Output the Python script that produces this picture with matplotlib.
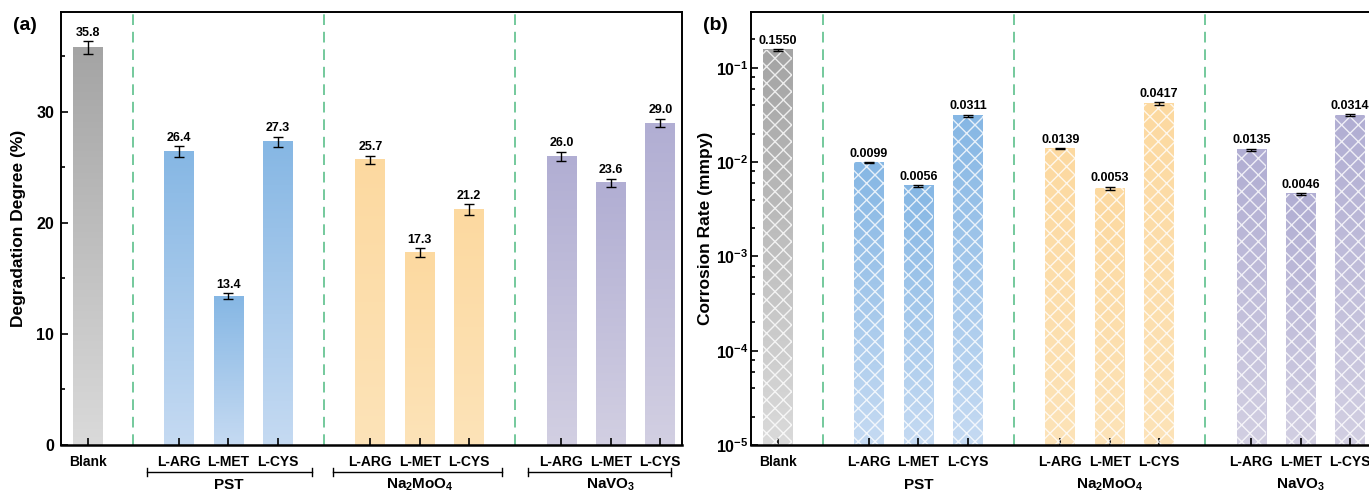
import matplotlib

matplotlib.use("Agg")
import matplotlib.pyplot as plt
import numpy as np
from matplotlib.colors import LinearSegmentedColormap
from matplotlib.ticker import FuncFormatter, LogLocator, MultipleLocator, NullFormatter
from matplotlib.transforms import blended_transform_factory

plt.rcParams["font.family"] = ["Liberation Sans", "DejaVu Sans"]
plt.rcParams["font.weight"] = "bold"
plt.rcParams["mathtext.fontset"] = "custom"
plt.rcParams["mathtext.rm"] = "Liberation Sans:bold"
plt.rcParams["mathtext.bf"] = "Liberation Sans:bold"
plt.rcParams["mathtext.default"] = "bf"
plt.rcParams["hatch.linewidth"] = 1.0

# --- data ---------------------------------------------------------------------
blank_label = "Blank"
groups = ["PST", "Na$_2$MoO$_4$", "NaVO$_3$"]
additives = ["L-ARG", "L-MET", "L-CYS"]

degradation = [35.8, 26.4, 13.4, 27.3, 25.7, 17.3, 21.2, 26.0, 23.6, 29.0]
degradation_err = [0.55, 0.50, 0.25, 0.48, 0.37, 0.40, 0.48, 0.42, 0.37, 0.36]

corrosion = [0.1550, 0.0099, 0.0056, 0.0311, 0.0139, 0.0053, 0.0417, 0.0135, 0.0046, 0.0314]
corrosion_err = [0.003, 0.0002, 0.0001, 0.0008, 0.0003, 0.0002, 0.0012, 0.0004, 0.0001, 0.0009]
# -----------------------------------------------------------------------------

# (top, bottom) gradient colours: blank, then one pair per group
BLANK_COLORS = ("#a4a4a4", "#dadada")
GROUP_COLORS = [("#86b7e4", "#c5daf2"), ("#fcd9a0", "#fde3b8"), ("#b1aed3", "#d2cfe2")]
DASH_COLOR = "#74c99c"

GROUP_START = 1.85
GROUP_STEP = 3.87
BAR_W = 0.6
XLIM = (-0.54, 12.03)

x = [0.0] + [GROUP_START + g * GROUP_STEP + i for g in range(3) for i in range(3)]
tick_labels = [blank_label] + additives * 3
bar_colors = [BLANK_COLORS] + [GROUP_COLORS[g] for g in range(3) for _ in range(3)]
dividers = [(x[0] + x[1]) / 2, (x[3] + x[4]) / 2, (x[6] + x[7]) / 2]
centers = [x[2], x[5], x[8]]
brackets = [(1.20, 4.55), (4.96, 8.39), (8.92, 11.80)]


def gradient_fill(ax, bars, colors):
    to_axes = ax.transScale + ax.transLimits
    for rect, (top, bottom) in zip(bars, colors):
        x0, y0 = rect.get_x(), rect.get_y()
        (ax0, ay0), (ax1, ay1) = to_axes.transform(
            [(x0, y0), (x0 + rect.get_width(), y0 + rect.get_height())])
        cmap = LinearSegmentedColormap.from_list("g", [bottom, top])
        grad = np.linspace(1, 0, 256).reshape(-1, 1)
        ax.imshow(grad, cmap=cmap, extent=[ax0, ax1, ay0, ay1], transform=ax.transAxes,
                  aspect="auto", zorder=1.5, clip_path=rect, interpolation="nearest")


def style_axes(ax):
    for s in ax.spines.values():
        s.set_linewidth(1.4)
    ax.spines["bottom"].set_linewidth(1.8)
    ax.tick_params(axis="both", which="both", direction="in", width=1.2,
                   top=False, right=False)
    ax.tick_params(axis="both", which="major", length=5, labelsize=11.5)
    ax.tick_params(axis="both", which="minor", length=3)
    ax.tick_params(axis="x", pad=7, labelsize=10)
    ax.set_xticks(x)
    ax.set_xticklabels(tick_labels)
    ax.set_xlim(*XLIM)
    for d in dividers:
        ax.axvline(d, color=DASH_COLOR, lw=1.4, ls=(0, (5.5, 3.5)), zorder=1)


def group_labels(ax, with_brackets):
    tr = blended_transform_factory(ax.transData, ax.transAxes)
    for c, name in zip(centers, groups):
        ax.text(c, -0.092, name, transform=tr, ha="center", va="center",
                fontsize=11, fontweight="bold")
    if with_brackets:
        for a, b in brackets:
            ax.plot([a, b], [-0.062, -0.062], color="black", lw=1.0, transform=tr,
                    clip_on=False)
            for e in (a, b):
                ax.plot([e, e], [-0.071, -0.053], color="black", lw=1.0, transform=tr,
                        clip_on=False)


fig = plt.figure(figsize=(13.69, 4.93), dpi=100)
ax1 = fig.add_axes([61 / 1369, 48 / 493, 621 / 1369, 433 / 493])
ax2 = fig.add_axes([751 / 1369, 48 / 493, 621 / 1369, 433 / 493])

# (a) degradation degree
style_axes(ax1)
ax1.set_ylim(0, 39)
ax1.yaxis.set_major_locator(MultipleLocator(10))
ax1.yaxis.set_minor_locator(MultipleLocator(5))
ax1.tick_params(axis="y", pad=5)
bars1 = ax1.bar(x, degradation, width=BAR_W, facecolor="none", lw=0, zorder=2)
gradient_fill(ax1, bars1, bar_colors)
ax1.errorbar(x, degradation, yerr=degradation_err, fmt="none", ecolor="black",
             elinewidth=1.0, capsize=3.5, capthick=1.0, zorder=4)
for xi, v, e in zip(x, degradation, degradation_err):
    ax1.annotate(f"{v:.1f}", (xi, v + e), xytext=(0, 2), textcoords="offset points",
                 ha="center", va="bottom", fontsize=9, fontweight="bold")
ax1.set_ylabel("Degradation Degree (%)", fontsize=12.5, fontweight="bold", labelpad=7)
group_labels(ax1, True)

# (b) corrosion rate, log scale
style_axes(ax2)
ax2.set_yscale("log")
ax2.set_ylim(1e-5, 0.39)
ax2.yaxis.set_major_locator(LogLocator(base=10))
ax2.yaxis.set_minor_locator(LogLocator(base=10, subs=(2, 4, 6, 8)))
ax2.yaxis.set_minor_formatter(NullFormatter())
ax2.yaxis.set_major_formatter(FuncFormatter(lambda v, p: f"$10^{{{int(round(np.log10(v)))}}}$"))
ax2.tick_params(axis="y", pad=2)
bars2 = ax2.bar(x, np.array(corrosion) - 1e-5, bottom=1e-5, width=BAR_W, facecolor="none",
                edgecolor=(1, 1, 1, 0.8), lw=0, hatch="xx", zorder=2)
gradient_fill(ax2, bars2, bar_colors)
ax2.errorbar(x, corrosion, yerr=corrosion_err, fmt="none", ecolor="black",
             elinewidth=1.0, capsize=3.5, capthick=1.0, zorder=4)
for xi, v, e in zip(x, corrosion, corrosion_err):
    ax2.annotate(f"{v:.4f}", (xi, v + e), xytext=(0, 1.5), textcoords="offset points",
                 ha="center", va="bottom", fontsize=9, fontweight="bold")
ax2.set_ylabel("Corrosion Rate (mmpy)", fontsize=12.5, fontweight="bold", labelpad=2)
group_labels(ax2, False)

ax1.set_xlim(*XLIM)
ax1.set_ylim(0, 39)
ax2.set_xlim(*XLIM)
ax2.set_ylim(1e-5, 0.39)

fig.text(13 / 1369, 1 - 25 / 493, "(a)", fontsize=14, fontweight="bold", va="center")
fig.text(703 / 1369, 1 - 25 / 493, "(b)", fontsize=14, fontweight="bold", va="center")

fig.savefig("out.png", dpi=100)
